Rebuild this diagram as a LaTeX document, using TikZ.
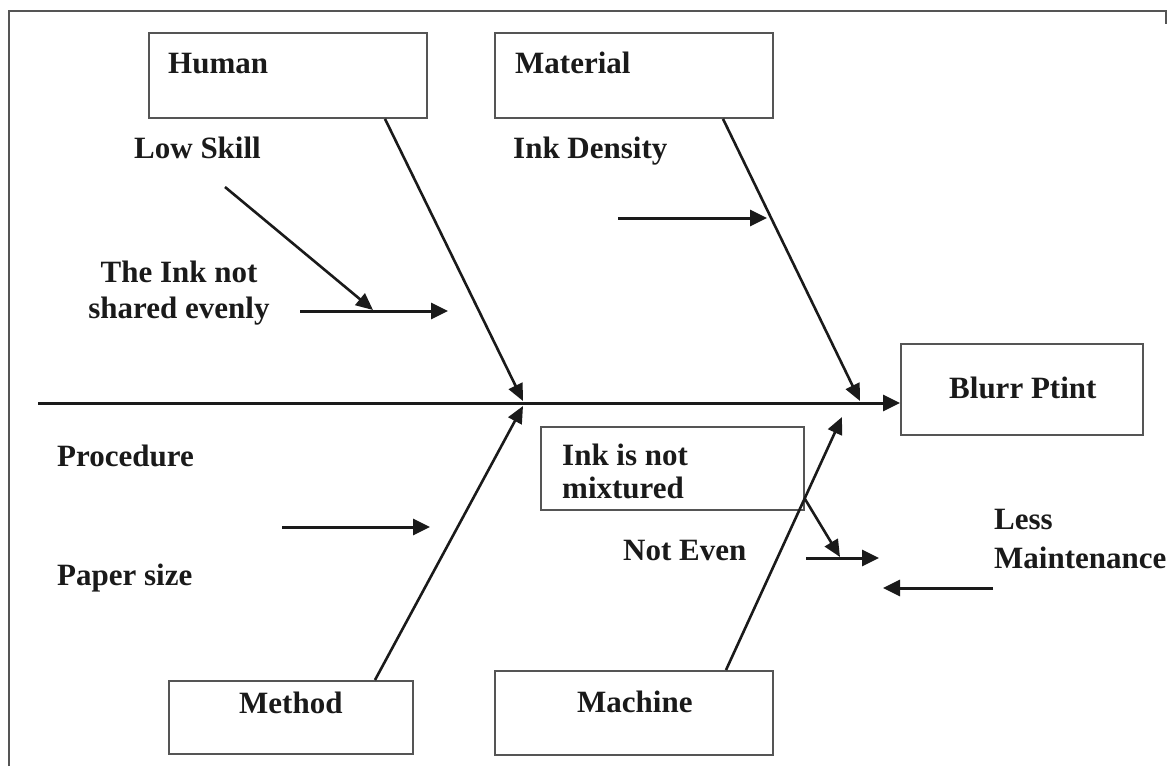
\documentclass[tikz,border=0pt]{standalone}
\usepackage{fontspec}
\setmainfont{Liberation Serif}
\usetikzlibrary{arrows.meta}
\definecolor{ink}{HTML}{1A1A1A}
\definecolor{frame}{HTML}{555555}
\begin{document}
\begin{tikzpicture}[x=1pt,y=-1pt,
  lbl/.style={font=\fontsize{31}{36}\selectfont\bfseries, text=ink, inner sep=0pt, anchor=base west},
  box/.style={draw=frame, line width=1.9pt, anchor=north west, inner sep=0pt},
  arr/.style={draw=ink, line width=3pt, -{Triangle[length=17pt,width=16pt]}},
  bone/.style={draw=ink, line width=2.6pt, -{Triangle[length=17pt,width=15pt]}}]
\useasboundingbox (0,0) rectangle (1167,766);
% frame
\draw[frame, line width=1.9pt] (9,766) -- (9,11) -- (1166,11) -- (1166,24);
% boxes
\node[box, minimum width=278pt, minimum height=85pt] (human) at (148,32) {};
\node[box, minimum width=278pt, minimum height=85pt] (material) at (494,32) {};
\node[box, minimum width=242pt, minimum height=91pt] (blurr) at (900,343) {};
\node[box, minimum width=263pt, minimum height=83pt] (inkbox) at (540,426) {};
\node[box, minimum width=244pt, minimum height=73pt] (method) at (168,680) {};
\node[box, minimum width=278pt, minimum height=84pt] (machine) at (494,670) {};
% texts
\node[lbl] (thuman) at (168,73) {Human};
\node[lbl] (tmaterial) at (515,73) {Material};
\node[lbl] (tblurr) at (949,398) {Blurr Ptint};
\node[lbl] (tmethod) at (239,713) {Method};
\node[lbl] (tmachine) at (577,712) {Machine};
\node[lbl] (lowskill) at (134,158) {Low Skill};
\node[lbl] (inkdens) at (513,158) {Ink Density};
\node[lbl, anchor=base, align=center] (inkshared) at (179,318) {The Ink not\\shared evenly};
\node[lbl] (proc) at (57,466) {Procedure};
\node[lbl] (paper) at (57,585) {Paper size};
\node[lbl, align=left, font=\fontsize{31}{33}\selectfont\bfseries] (tink) at (562,498) {Ink is not\\mixtured};
\node[lbl] (noteven) at (623,560) {Not Even};
\node[lbl, align=left, font=\fontsize{31}{39}\selectfont\bfseries] (lessm) at (994,568) {Less\\Maintenance};
% coordinates
\coordinate (tail) at (38,403);
\coordinate (hh) at (523,401);
\coordinate (mh) at (860,401);
\coordinate (meh) at (523,406);
\coordinate (mah) at (842,417);
\coordinate (ls1) at (225,187);
\coordinate (ls2) at (373,310);
\coordinate (ie1) at (300,311);
\coordinate (ie2) at (448,311);
\coordinate (id1) at (618,218);
\coordinate (id2) at (767,218);
\coordinate (pr1) at (282,527);
\coordinate (pr2) at (430,527);
\coordinate (ne2) at (840,557);
\coordinate (ne1) at (806,558);
\coordinate (ne3) at (879,558);
\coordinate (lm1) at (993,588);
\coordinate (lm2) at (883,588);
% spine
\draw[arr] (tail) -- (tail -| blurr.west);
% bones
\draw[bone] ([xshift=237pt]human.south west) -- (hh);
\draw[bone] ([xshift=229pt]material.south west) -- (mh);
\draw[bone] ([xshift=207pt]method.north west) -- (meh);
\draw[bone] ([xshift=232pt]machine.north west) -- (mah);
% sub causes
\draw[bone] (ls1) -- (ls2);
\draw[arr] (ie1) -- (ie2);
\draw[arr] (id1) -- (id2);
\draw[arr] (pr1) -- (pr2);
\draw[bone] ([yshift=12pt]inkbox.south east) -- (ne2);
\draw[arr] (ne1) -- (ne3);
\draw[arr] (lm1) -- (lm2);
\end{tikzpicture}
\end{document}
